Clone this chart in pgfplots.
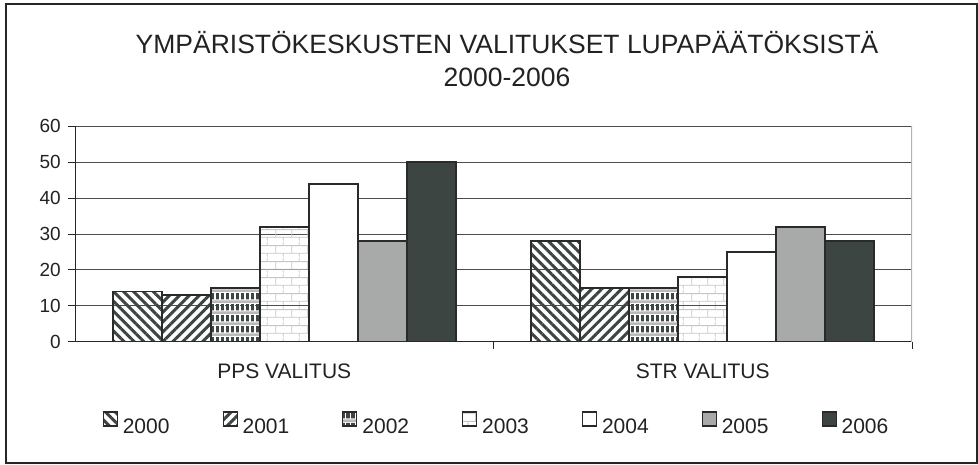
\documentclass[border=0pt]{standalone}
\usepackage{pgfplots}
\pgfplotsset{compat=1.18}
\usepackage{fontspec}
\setmainfont{Liberation Sans}
\usetikzlibrary{patterns,patterns.meta}
\definecolor{darkbar}{HTML}{3D4543}
\definecolor{midbar}{HTML}{A8AAA9}
\definecolor{txt}{HTML}{222222}
\definecolor{edge}{HTML}{2A2A2A}
\tikzdeclarepattern{
  name=plaid, type=colored,
  bottom left={(0bp,0bp)}, top right={(5.4bp,10.8bp)},
  tile size={(5.4bp,10.8bp)},
  code={
    \fill[gray!55] (0bp,0bp) rectangle (5.4bp,2.6bp);
    \fill[darkbar] (1.2bp,3.6bp) rectangle (4.4bp,10bp);
  }
}
\tikzdeclarepattern{
  name=bricksx, type=colored,
  bottom left={(0bp,0bp)}, top right={(16bp,16bp)},
  tile size={(16bp,16bp)},
  code={
    \draw[gray!45, line width=0.9bp] (0bp,4bp) -- (16bp,4bp);
    \draw[gray!45, line width=0.9bp] (0bp,12bp) -- (16bp,12bp);
    \draw[gray!45, line width=0.9bp] (4bp,4bp) -- (4bp,12bp);
    \draw[gray!45, line width=0.9bp] (12bp,12bp) -- (12bp,16bp);
    \draw[gray!45, line width=0.9bp] (12bp,0bp) -- (12bp,4bp);
  }
}
\tikzset{bs/.style={draw=edge, line width=1.7bp}}
\begin{document}
\begin{tikzpicture}
\begin{axis}[
  scale only axis,
  width=837bp, height=215.4bp,
  ybar=0pt, bar width=49bp,
  xmin=-0.5, xmax=1.5,
  ymin=0, ymax=60,
  ytick={0,10,...,60},
  xtick={0.5,1.5}, xticklabels={},
  extra x ticks={0,1},
  extra x tick labels={PPS VALITUS,STR VALITUS},
  extra x tick style={major tick length=0pt, xticklabel style={anchor=base, inner sep=0pt, yshift=-36.3bp}},
  axis x line*=bottom, axis y line*=left,
  axis line style={black!85, line width=1bp},
  tick align=outside, major tick length=7bp,
  tick style={black!85, line width=1bp},
  ymajorgrids, major grid style={black!70, line width=0.9bp},
  /pgf/number format/assume math mode=true,
  yticklabel style={font=\fontsize{19bp}{22bp}\selectfont, text=txt, anchor=east, inner sep=0pt, xshift=-7bp},
  xticklabel style={font=\fontsize{21bp}{24bp}\selectfont, text=txt},
  legend columns=7,
  legend style={draw=none, at={(0.5036,-0.382)}, anchor=center,
    font=\fontsize{21bp}{24bp}\selectfont, text=txt,
    /tikz/every odd column/.append style={column sep=3bp},
    /tikz/every even column/.append style={column sep=51bp}},
  legend image code/.code={\draw[#1, line width=1.1bp] (0bp,0.5bp) rectangle (14bp,14.5bp);},
]
\addplot[bs, pattern={Lines[angle=-45,distance=7bp,line width=3bp]}, pattern color=darkbar] coordinates {(0,14) (1,28)};
\addplot[bs, pattern={Lines[angle=45,distance=7bp,line width=3bp]}, pattern color=darkbar] coordinates {(0,13) (1,15)};
\addplot[bs, pattern=plaid] coordinates {(0,15) (1,15)};
\addplot[bs, pattern=bricksx] coordinates {(0,32) (1,18)};
\addplot[bs, fill=white] coordinates {(0,44) (1,25)};
\addplot[bs, fill=midbar] coordinates {(0,28) (1,32)};
\addplot[bs, fill=darkbar] coordinates {(0,50) (1,28)};
\legend{2000,2001,2002,2003,2004,2005,2006}
\draw[gray!60, line width=1.3bp] (rel axis cs:1,0) -- (rel axis cs:1,1);
\end{axis}
\node[anchor=base, inner sep=0pt, font=\fontsize{26.5bp}{30bp}\selectfont, text=txt] at (432bp,288.4bp) {YMPÄRISTÖKESKUSTEN VALITUKSET LUPAPÄÄTÖKSISTÄ};
\node[anchor=base, inner sep=0pt, font=\fontsize{26.5bp}{30bp}\selectfont, text=txt] at (432bp,255bp) {2000-2006};
\draw[black!85, line width=1.2bp] (-69bp,-121.3bp) rectangle (902bp,337.7bp);
\pgfresetboundingbox
\useasboundingbox (-75bp,-123.3bp) rectangle (903bp,341.7bp);
\end{tikzpicture}
\end{document}
